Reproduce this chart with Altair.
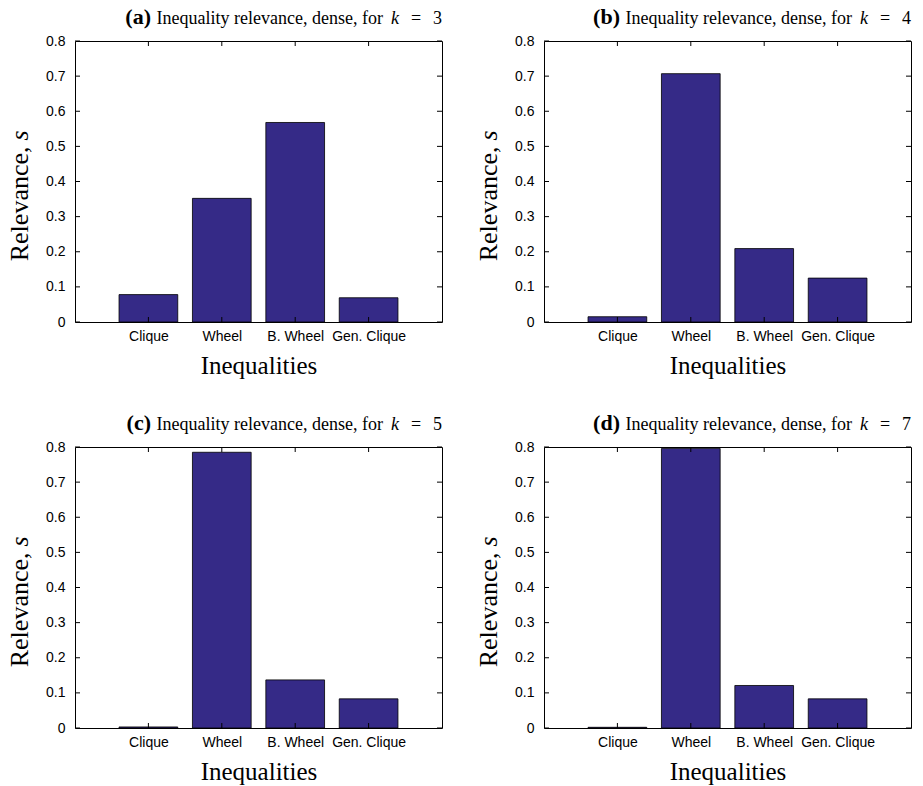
import json

import altair as alt
import pandas as pd

# Relevance of each inequality family for the dense instances
categories = ["Clique", "Wheel", "B. Wheel", "Gen. Clique"]
positions = [1, 2, 3, 4]
panel_letters = ["(a)", "(b)", "(c)", "(d)"]
k_values = [3, 4, 5, 7]
relevance_k3 = [0.078, 0.352, 0.568, 0.069]
relevance_k4 = [0.015, 0.707, 0.209, 0.125]
relevance_k5 = [0.003, 0.785, 0.137, 0.083]
relevance_k7 = [0.002, 0.796, 0.121, 0.083]
y_ticks = [0, 0.1, 0.2, 0.3, 0.4, 0.5, 0.6, 0.7, 0.8]

W, H = 367, 281
TICK = 5
BAR_COLOR = "#352A87"
SERIF = "Liberation Serif"
SANS = "Liberation Sans"

X_AXIS = alt.Axis(
    values=positions, labelExpr=json.dumps([""] + categories) + "[datum.value]",
    ticks=False, domain=False, grid=False, labelFont=SANS, labelFontSize=14,
    labelColor="black", labelPadding=7, title="Inequalities",
    titleFont=SERIF, titleFontSize=25, titleFontWeight="normal",
    titleColor="black", titlePadding=10)
Y_AXIS = alt.Axis(
    values=y_ticks,
    labelExpr="datum.value == 0 ? '0' : format(datum.value, '.1f')",
    ticks=False, domain=False, grid=False, labelFont=SANS, labelFontSize=14,
    labelColor="black", labelPadding=10, title=None)


def text_piece(text, x, y, size, weight="normal", style="normal",
               align="left", angle=0):
    return alt.Chart(pd.DataFrame({"t": [text]})).mark_text(
        font=SERIF, fontSize=size, fontWeight=weight, fontStyle=style,
        align=align, baseline="alphabetic", angle=angle, color="black",
    ).encode(text="t:N", x=alt.value(x), y=alt.value(y))


def panel(letter, k, values):
    df = pd.DataFrame({"pos": positions, "category": categories,
                       "relevance": values})
    x_scale = alt.Scale(domain=[0, 5], nice=False, zero=False)
    y_scale = alt.Scale(domain=[0, 0.8], nice=False)

    bars = alt.Chart(df).transform_calculate(
        left="datum.pos - 0.4", right="datum.pos + 0.4"
    ).mark_bar(color=BAR_COLOR, stroke="black", strokeWidth=0.8).encode(
        x=alt.X("left:Q", scale=x_scale, axis=X_AXIS),
        x2="right:Q",
        y=alt.Y("relevance:Q", scale=y_scale, axis=Y_AXIS),
        y2=alt.datum(0),
    )

    ydf = pd.DataFrame({"t": y_ticks})
    xdf = pd.DataFrame({"pos": positions})
    y_enc = alt.Y("t:Q", scale=y_scale, axis=Y_AXIS)
    x_enc = alt.X("pos:Q", scale=x_scale, axis=X_AXIS)
    # inward ticks on all four sides of the box
    ticks = [
        alt.Chart(ydf).mark_rule(color="black").encode(
            y=y_enc, x=alt.value(0), x2=alt.value(TICK)),
        alt.Chart(ydf).mark_rule(color="black").encode(
            y=y_enc, x=alt.value(W - TICK), x2=alt.value(W)),
        alt.Chart(xdf).mark_rule(color="black").encode(
            x=x_enc, y=alt.value(H), y2=alt.value(H - TICK)),
        alt.Chart(xdf).mark_rule(color="black").encode(
            x=x_enc, y=alt.value(0), y2=alt.value(TICK)),
    ]

    # panel title: bold letter, roman text, italic k
    title = [
        text_piece(letter, W - 291, -17, 22, weight="bold", align="right"),
        text_piece("Inequality relevance, dense, for", W - 59, -17, 18,
                   align="right"),
        text_piece("k", W - 43, -17, 18, style="italic", align="right"),
        text_piece("=", W - 26, -17, 18, align="center"),
        text_piece(str(k), W, -17, 18, align="right"),
    ]
    # rotated y title: "Relevance, s" with italic s
    yc = H / 2 + 14
    ylab = [
        text_piece("Relevance,", -47, yc - 49, 26, align="right",
                   angle=270),
        text_piece("s", -47, yc - 55, 26, style="italic", align="left",
                   angle=270),
    ]
    return alt.layer(bars, *ticks, *title, *ylab).properties(width=W,
                                                             height=H)


panels = [panel(l, k, v) for l, k, v in zip(
    panel_letters, k_values,
    [relevance_k3, relevance_k4, relevance_k5, relevance_k7])]

chart = alt.vconcat(
    alt.hconcat(panels[0], panels[1], spacing=32),
    alt.hconcat(panels[2], panels[3], spacing=32),
    spacing=32,
).properties(
    padding={"left": 6, "top": 5, "right": 5, "bottom": 5},
    background="white",
).configure_view(stroke="black", strokeWidth=1)

chart.save("out.html", embed_options={"renderer": "svg", "actions": False})
